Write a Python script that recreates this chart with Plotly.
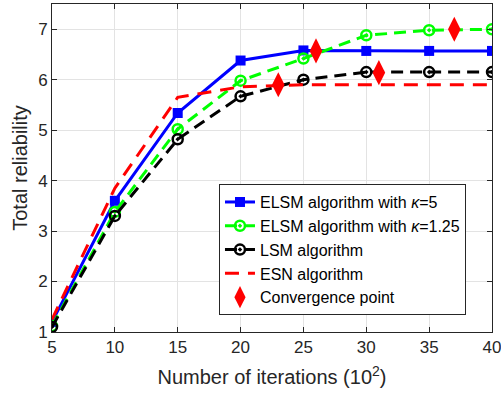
import plotly.graph_objects as go

iterations = [5, 10, 15, 20, 25, 30, 35, 40]
elsm_k5 = [1.2, 3.6, 5.34, 6.38, 6.58, 6.57, 6.57, 6.57]
elsm_k125 = [1.12, 3.38, 5.02, 5.98, 6.42, 6.88, 6.98, 7.0]
lsm = [1.1, 3.3, 4.82, 5.67, 6.0, 6.15, 6.15, 6.15]
esn = [1.25, 3.85, 5.65, 5.86, 5.9, 5.9, 5.9, 5.9]
conv_x = [26, 23, 31, 37]
conv_y = [6.57, 5.9, 6.14, 7.0]

x_ticks = [5, 10, 15, 20, 25, 30, 35, 40]
y_ticks = [1, 2, 3, 4, 5, 6, 7]

fig = go.Figure()
fig.add_trace(go.Scatter(x=iterations, y=elsm_k5, mode="lines+markers",
                         name="ELSM algorithm with <i>κ</i>=5",
                         line=dict(color="#0000ff", width=3),
                         marker=dict(symbol="square", size=10, color="#0000ff")))
fig.add_trace(go.Scatter(x=iterations, y=elsm_k125, mode="lines+markers",
                         name="ELSM algorithm with <i>κ</i>=1.25",
                         line=dict(color="#00ff00", width=3, dash="12px,7px"),
                         marker=dict(symbol="circle-open-dot", size=10, color="#00ff00",
                                     line=dict(width=2.5, color="#00ff00"))))
fig.add_trace(go.Scatter(x=iterations, y=lsm, mode="lines+markers",
                         name="LSM algorithm",
                         line=dict(color="#000000", width=3, dash="12px,7px"),
                         marker=dict(symbol="circle-open-dot", size=10, color="#000000",
                                     line=dict(width=2.5, color="#000000"))))
fig.add_trace(go.Scatter(x=iterations, y=esn, mode="lines",
                         name="ESN algorithm",
                         line=dict(color="#ff0000", width=3, dash="14px,9px")))
fig.add_trace(go.Scatter(x=conv_x, y=conv_y, mode="markers",
                         name="Convergence point",
                         marker=dict(symbol="diamond-tall", size=18, color="#ff0000")))

axis_common = dict(showgrid=True, gridcolor="#e3e3e3", gridwidth=1,
                   showline=True, linecolor="#262626", linewidth=1, mirror="allticks",
                   ticks="inside", ticklen=5, tickcolor="#262626",
                   tickfont=dict(family="Arial, Liberation Sans", size=17, color="#262626"),
                   zeroline=False, automargin=False, ticklabeloverflow="allow")

fig.update_layout(
    width=501, height=403,
    margin=dict(l=52, r=9, t=4, b=71),
    paper_bgcolor="white", plot_bgcolor="white",
    font=dict(family="Arial, Liberation Sans", color="#262626"),
    xaxis=dict(range=[5, 40], tickvals=x_ticks,
               title=dict(text="Number of iterations (10<sup>2</sup>)", font=dict(size=20), standoff=13),
               **axis_common),
    yaxis=dict(range=[1, 7.5], tickvals=y_ticks,
               title=dict(text="Total reliability", font=dict(size=20), standoff=5),
               **axis_common),
    legend=dict(x=0.3795, y=0.451, xanchor="left", yanchor="top",
                bgcolor="white", bordercolor="#262626", borderwidth=1,
                font=dict(size=16, color="#000000"), tracegroupgap=0,
                itemwidth=30),
    showlegend=True,
)

fig.write_html("out.html", config={"displayModeBar": False},
               post_script="document.body.style.margin='0';document.body.style.overflow='hidden';")
